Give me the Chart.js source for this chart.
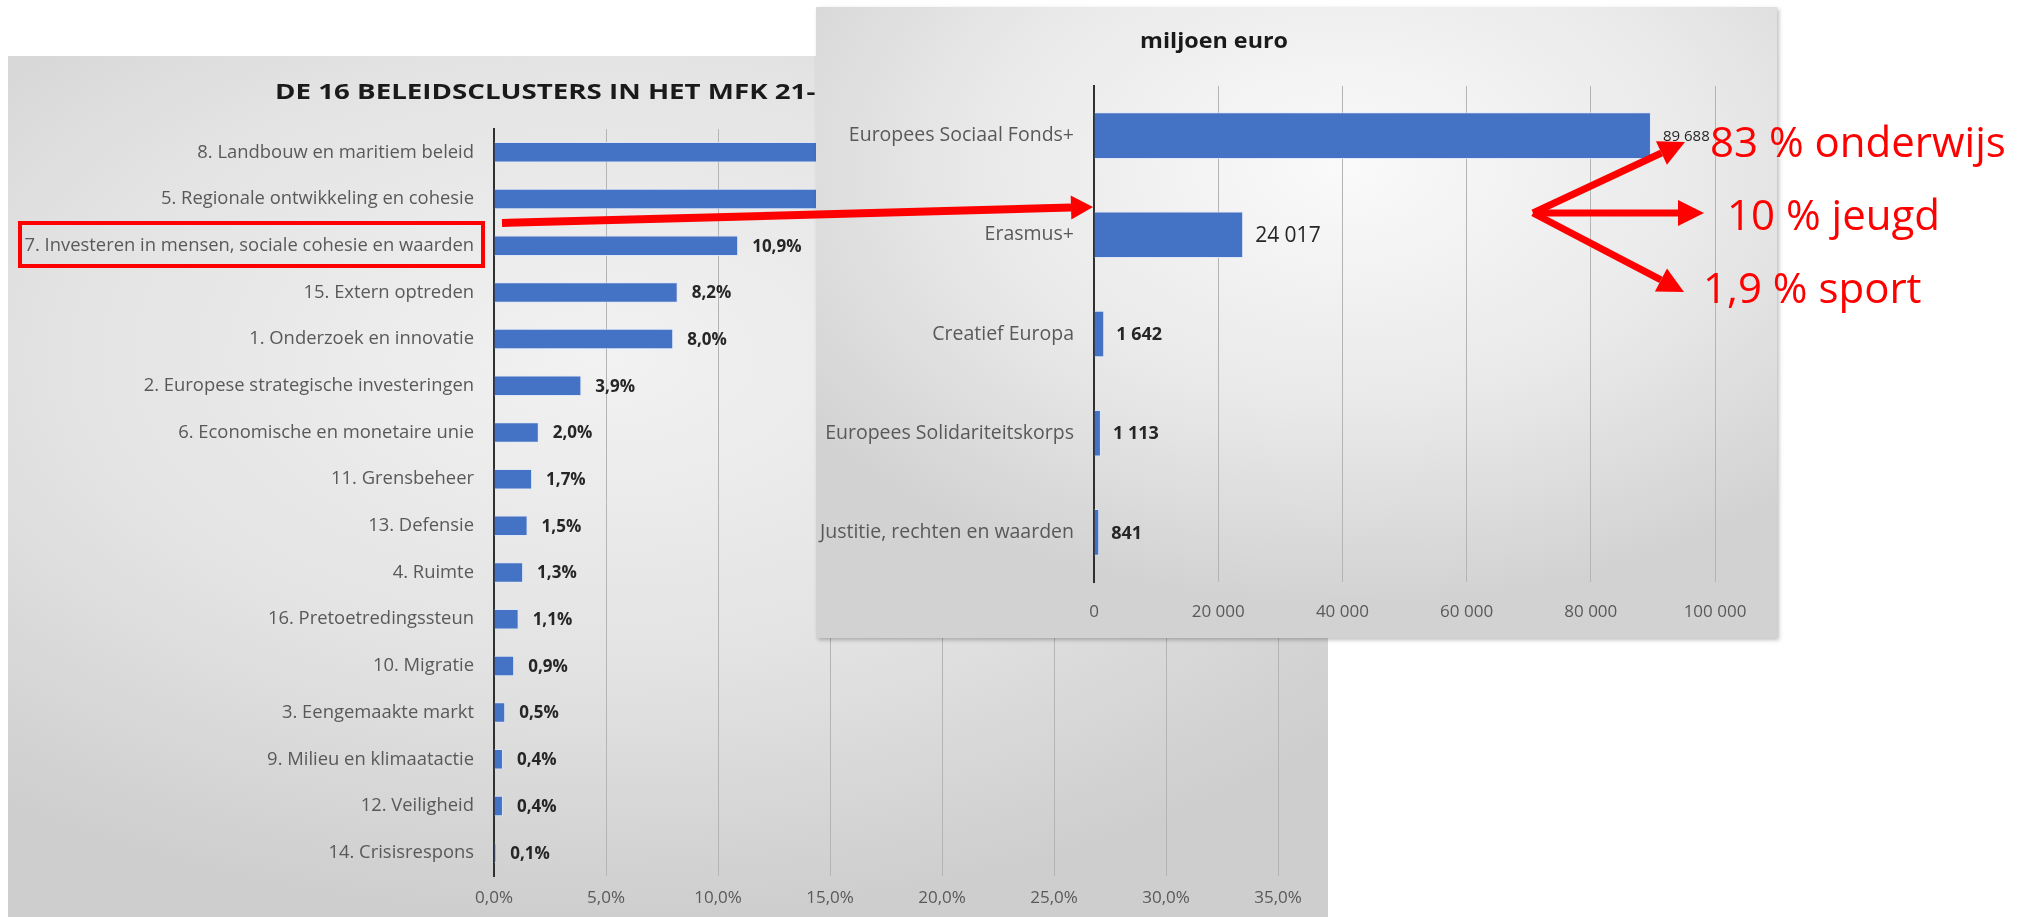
<!DOCTYPE html>
<html>
<head>
<meta charset="utf-8">
<script src="https://cdn.jsdelivr.net/npm/chart.js@4.4.1/dist/chart.umd.min.js"></script>
<style>
  html, body { margin: 0; padding: 0; background: #fff; width: 2034px; height: 917px; overflow: hidden; }
  #main {
    position: absolute; left: 8px; top: 56px; width: 1320px; height: 861px;
    background: radial-gradient(ellipse 75% 65% at 45% 35%, #f2f2f2 0%, #e3e3e3 55%, #cecece 100%);
  }
  #inset {
    position: absolute; left: 816px; top: 7px; width: 961px; height: 631px;
    background: radial-gradient(ellipse 70% 70% at 55% 25%, #fafafa 0%, #e9e9e9 55%, #d2d2d2 100%);
    box-shadow: 2px 2px 4px rgba(0,0,0,0.25);
  }
  canvas { position: absolute; left: 0; top: 0; }
  svg { position: absolute; left: 0; top: 0; overflow: visible; }
  #overlay { pointer-events: none; }
</style>
</head>
<body>
<div id="main">
  <canvas id="mainChart" width="1320" height="861"></canvas>
  <svg width="1320" height="861">
    <text x="267" y="43" font-family="Open Sans" font-weight="bold" font-size="22" fill="#1a1a1a"
          textLength="572" lengthAdjust="spacingAndGlyphs">DE 16 BELEIDSCLUSTERS IN HET MFK 21-27</text>
  </svg>
</div>
<div id="inset">
  <canvas id="insetChart" width="961" height="631"></canvas>
  <svg width="961" height="631">
    <text x="324" y="41" font-family="Open Sans" font-weight="bold" font-size="21" fill="#1a1a1a"
          textLength="148" lengthAdjust="spacingAndGlyphs">miljoen euro</text>
  </svg>
</div>
<svg id="overlay" width="2034" height="917">
  <rect x="20" y="223" width="463" height="43" fill="none" stroke="#ff0000" stroke-width="4"></rect>
  <g id="arrows" fill="#ff0000" stroke="#ff0000"></g>
  <g font-family="Open Sans" font-size="42" fill="#ff0000">
    <text x="1710" y="157">83 % onderwijs</text>
    <text x="1727" y="230">10 % jeugd</text>
    <text x="1703" y="303">1,9 % sport</text>
  </g>
</svg>

<script>
// MFK 21-27: share per beleidscluster (%)
const clusters = [
  "8. Landbouw en maritiem beleid",
  "5. Regionale ontwikkeling en cohesie",
  "7. Investeren in mensen, sociale cohesie en waarden",
  "15. Extern optreden",
  "1. Onderzoek en innovatie",
  "2. Europese strategische investeringen",
  "6. Economische en monetaire unie",
  "11. Grensbeheer",
  "13. Defensie",
  "4. Ruimte",
  "16. Pretoetredingssteun",
  "10. Migratie",
  "3. Eengemaakte markt",
  "9. Milieu en klimaatactie",
  "12. Veiligheid",
  "14. Crisisrespons"
];
const clusterShare = [30.9, 28.2, 10.9, 8.2, 8.0, 3.9, 2.0, 1.7, 1.5, 1.3, 1.1, 0.9, 0.5, 0.4, 0.4, 0.1];
const shareTicks = [0, 5, 10, 15, 20, 25, 30, 35];

// cluster 7 programmes (miljoen euro)
const programmes = [
  "Europees Sociaal Fonds+",
  "Erasmus+",
  "Creatief Europa",
  "Europees Solidariteitskorps",
  "Justitie, rechten en waarden"
];
const programmeBudget = [89688, 24017, 1642, 1113, 841];
const budgetTicks = [0, 20000, 40000, 60000, 80000, 100000];

const BLUE = "#4472c4";
const FONT = "'Open Sans', sans-serif";

const pct = v => v.toFixed(1).replace(".", ",") + "%";
const thousands = v => String(v).replace(/\B(?=(\d{3})+(?!\d))/g, " ");

// draws the value next to each bar
function barLabels(format, fonts, offset) {
  return {
    id: "barLabels",
    afterDatasetsDraw(chart) {
      const ctx = chart.ctx;
      const data = chart.data.datasets[0].data;
      ctx.save();
      ctx.textAlign = "left";
      ctx.textBaseline = "middle";
      chart.getDatasetMeta(0).data.forEach((bar, i) => {
        ctx.font = fonts[i] || fonts[0];
        ctx.fillStyle = "#262626";
        ctx.fillText(format(data[i]), bar.x + offset, bar.y + 1);
      });
      ctx.restore();
    }
  };
}

Chart.defaults.font.family = FONT;
Chart.defaults.animation = false;

new Chart(document.getElementById("mainChart"), {
  type: "bar",
  data: {
    labels: clusters,
    datasets: [{
      data: clusterShare,
      backgroundColor: BLUE,
      borderColor: "rgba(220,230,250,0.8)",
      borderWidth: 1,
      barPercentage: 0.44,
      categoryPercentage: 1
    }]
  },
  options: {
    indexAxis: "y",
    responsive: false,
    layout: { padding: { top: 73, right: 50, left: 0, bottom: 0 } },
    plugins: { legend: { display: false }, tooltip: { enabled: false } },
    scales: {
      x: {
        min: 0, max: 35,
        afterBuildTicks: s => { s.ticks = shareTicks.map(v => ({ value: v })); },
        afterFit: s => { s.height = 41; },
        ticks: { callback: v => pct(v), color: "#595959", font: { size: 17 }, padding: 12 },
        grid: { color: "#b4b4b4", lineWidth: 1, drawTicks: false },
        border: { display: false }
      },
      y: {
        afterFit: s => { s.width = 486; },
        ticks: { color: "#595959", font: { size: 18.4 }, padding: 20 },
        grid: { display: false, drawTicks: false },
        border: { display: true, color: "#303030", width: 2 }
      }
    }
  },
  plugins: [barLabels(pct, ["bold 17px " + FONT], 14)]
});

new Chart(document.getElementById("insetChart"), {
  type: "bar",
  data: {
    labels: programmes,
    datasets: [{
      data: programmeBudget,
      backgroundColor: BLUE,
      borderColor: "rgba(220,230,250,0.8)",
      borderWidth: 1,
      barPercentage: 0.47,
      categoryPercentage: 1
    }]
  },
  options: {
    indexAxis: "y",
    responsive: false,
    layout: { padding: { top: 79, right: 62, left: 0, bottom: 0 } },
    plugins: { legend: { display: false }, tooltip: { enabled: false } },
    scales: {
      x: {
        min: 0, max: 100000,
        afterBuildTicks: s => { s.ticks = budgetTicks.map(v => ({ value: v })); },
        afterFit: s => { s.height = 56; },
        ticks: { callback: v => thousands(v), color: "#595959", font: { size: 17 }, padding: 20 },
        grid: { color: "#b4b4b4", lineWidth: 1, drawTicks: false },
        border: { display: false }
      },
      y: {
        afterFit: s => { s.width = 278; },
        ticks: { color: "#595959", font: { size: 19.5 }, padding: 20 },
        grid: { display: false, drawTicks: false },
        border: { display: true, color: "#303030", width: 2 }
      }
    }
  },
  plugins: [barLabels(thousands, [
    "15px " + FONT, "21px " + FONT, "bold 18px " + FONT, "bold 18px " + FONT, "bold 18px " + FONT
  ], 12)]
});

// red annotation arrows
const NS = "http://www.w3.org/2000/svg";
const arrowLayer = document.getElementById("arrows");
function arrow(x1, y1, x2, y2, w, headLen, headHalf) {
  const a = Math.atan2(y2 - y1, x2 - x1);
  const bx = x2 - headLen * Math.cos(a), by = y2 - headLen * Math.sin(a);
  const line = document.createElementNS(NS, "line");
  line.setAttribute("x1", x1); line.setAttribute("y1", y1);
  line.setAttribute("x2", bx); line.setAttribute("y2", by);
  line.setAttribute("stroke-width", w);
  arrowLayer.appendChild(line);
  const nx = -Math.sin(a) * headHalf, ny = Math.cos(a) * headHalf;
  const head = document.createElementNS(NS, "polygon");
  head.setAttribute("points", `${x2},${y2} ${bx + nx},${by + ny} ${bx - nx},${by - ny}`);
  head.setAttribute("stroke", "none");
  arrowLayer.appendChild(head);
}
arrow(502, 223, 1093, 207, 8, 22, 12);
arrow(1533, 213, 1685, 142, 7, 26, 13);
arrow(1533, 213, 1704, 213, 7, 26, 13);
arrow(1533, 213, 1684, 292, 7, 26, 13);
</script>
</body>
</html>
